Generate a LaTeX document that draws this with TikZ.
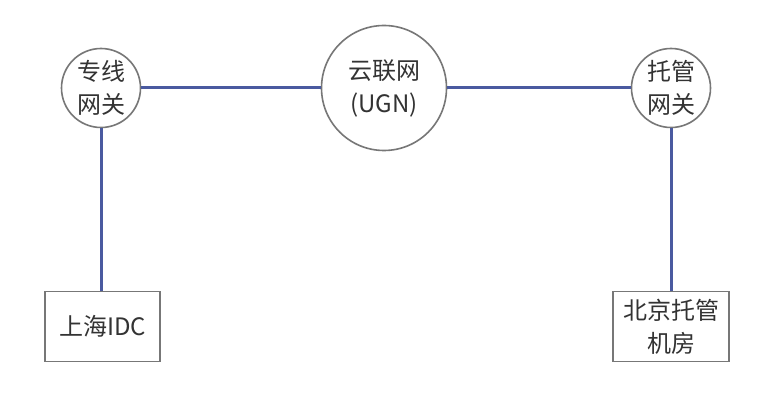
\documentclass[tikz,border=0pt]{standalone}
\usepackage{fontspec}
\setmainfont{Noto Sans CJK SC}
\definecolor{linkblue}{HTML}{4A5AA0}
\definecolor{edgegray}{HTML}{777777}
\definecolor{txt}{HTML}{333333}
\begin{document}
\begin{tikzpicture}[x=1pt,y=-1pt,
  circ/.style={circle, draw=edgegray, line width=1.6pt, minimum size=79pt, inner sep=0pt, align=center, text=txt, font=\fontsize{24}{33}\selectfont},
  boxnode/.style={rectangle, draw=edgegray, line width=1.8pt, minimum width=115pt, minimum height=70pt, inner sep=0pt, align=center, text=txt, font=\fontsize{24}{33}\selectfont},
  link/.style={draw=linkblue, line width=3pt}]
\useasboundingbox (0,0) rectangle (784,414);
\fill[white] (0,0) rectangle (784,414);
\node[circ] (zx) at (101,88) {专线\\网关};
\node[circ, minimum size=125pt] (ugn) at (384,88) {云联网\\(UGN)};
\node[circ] (tg) at (671,88) {托管\\网关};
\node[boxnode] (sh) at (102.5,326.5) {上海IDC};
\node[boxnode, minimum width=116pt] (bj) at (671,326.5) {北京托管\\机房};
\draw[link] (zx) -- (ugn);
\draw[link] (ugn) -- (tg);
\draw[link] (zx.south) -- (zx.south |- sh.north);
\draw[link] (tg.south) -- (tg.south |- bj.north);
\end{tikzpicture}
\end{document}
